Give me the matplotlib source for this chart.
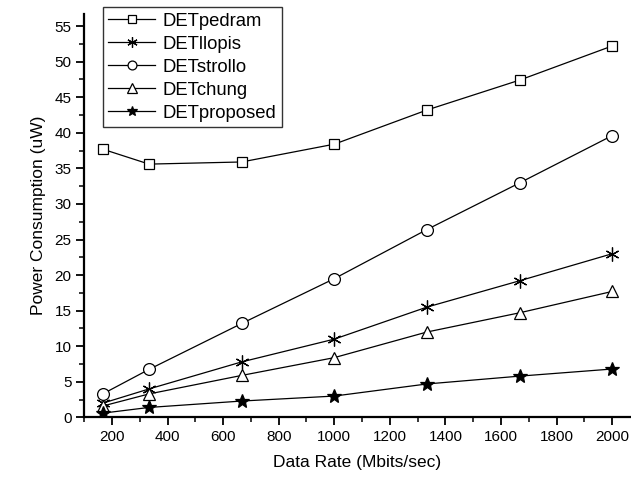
import numpy as np
import matplotlib
matplotlib.use("Agg")
import matplotlib.pyplot as plt
from matplotlib.ticker import MultipleLocator

plt.rcParams["font.family"] = ["Liberation Sans", "DejaVu Sans"]

# data rates (Mbits/sec)
rates = [166.7, 333.3, 666.7, 1000, 1333.3, 1666.7, 2000]

det_pedram = [37.7, 35.6, 35.9, 38.4, 43.2, 47.4, 52.2]
det_llopis = [2.0, 4.0, 7.8, 11.0, 15.5, 19.2, 23.0]
det_strollo = [3.3, 6.75, 13.2, 19.5, 26.4, 32.95, 39.6]
det_chung = [1.6, 3.3, 5.9, 8.4, 12.0, 14.7, 17.7]
det_proposed = [0.6, 1.4, 2.3, 3.0, 4.7, 5.8, 6.8]

series = [
    ("DETpedram", det_pedram, "s", "white", 7),
    ("DETllopis", det_llopis, (6, 2, 0), "black", 10),
    ("DETstrollo", det_strollo, "o", "white", 8.5),
    ("DETchung", det_chung, "^", "white", 9),
    ("DETproposed", det_proposed, "*", "black", 10),
]

fig = plt.figure(figsize=(6.31, 4.82), dpi=100)
ax = fig.add_axes([0.133, 0.134, 0.867, 0.837])

for name, vals, mk, fc, ms in series:
    ax.plot(rates, vals, color="black", linewidth=0.9, marker=mk,
            markerfacecolor=fc, markeredgecolor="black", markeredgewidth=0.9,
            markersize=ms, label=name)

ax.set_xlim(99, 2068)
ax.set_ylim(0, 56.7)
ax.xaxis.set_major_locator(MultipleLocator(200))
ax.xaxis.set_minor_locator(MultipleLocator(100))
ax.yaxis.set_major_locator(MultipleLocator(5))
ax.yaxis.set_minor_locator(MultipleLocator(2.5))

ax.spines["top"].set_visible(False)
ax.spines["right"].set_visible(False)
for s in ("left", "bottom"):
    ax.spines[s].set_linewidth(1.6)

ax.tick_params(which="major", direction="out", length=6, width=1.3, labelsize=11, pad=3)
ax.tick_params(which="minor", direction="out", length=3.5, width=1.1)

ax.set_xlabel("Data Rate (Mbits/sec)", fontsize=12.5, labelpad=8)
ax.set_ylabel("Power Consumption (uW)", fontsize=12.5, labelpad=6)

leg = ax.legend(loc="upper left", bbox_to_anchor=(0.163, 0.9855),
                bbox_transform=fig.transFigure, fontsize=13.3, frameon=True,
                fancybox=False, edgecolor="black", borderaxespad=0,
                handlelength=2.55, handletextpad=0.4, labelspacing=0.33,
                borderpad=0.3, markerscale=0.75)
leg.get_frame().set_linewidth(1.0)

fig.savefig("out.png", dpi=100)
